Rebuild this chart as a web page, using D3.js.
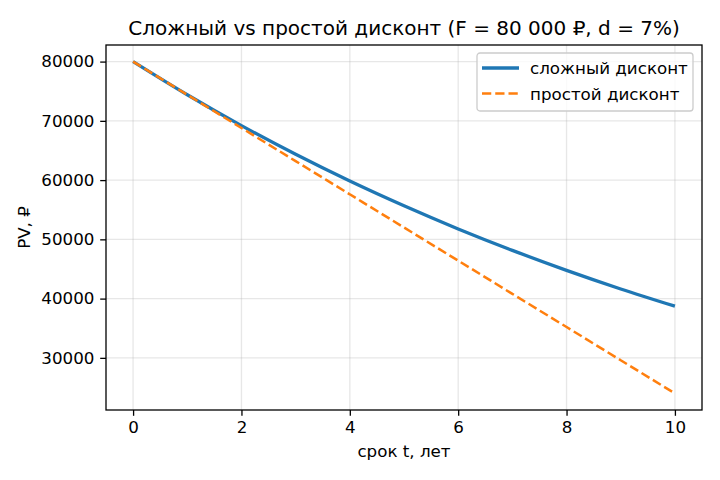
<!DOCTYPE html>
<html lang="ru">
<head>
  <meta charset="utf-8">
  <title>Сложный vs простой дисконт</title>
  <script src="https://d3js.org/d3.v7.min.js"></script>
  <style>
    body { margin: 0; background: #fff; }
    svg { font-family: "DejaVu Sans", sans-serif; }
  </style>
</head>
<body>
<script>
// years
var years = [0, 1, 2, 3, 4, 5, 6, 7, 8, 9, 10];
// PV, rubles
var compoundPV = [80000, 74400, 69190, 64350, 59840, 55660, 51760, 48140, 44770, 41630, 38720];
var simplePV = [80000, 74400, 68800, 63200, 57600, 52000, 46400, 40800, 35200, 29600, 24000];
var xTicks = [0, 2, 4, 6, 8, 10];
var yTicks = [30000, 40000, 50000, 60000, 70000, 80000];

var w = 720, h = 480;
var margin = {left: 106, top: 45, right: 18, bottom: 70};
var fs = "16.7px"; // 10pt at 120 dpi

var svg = d3.select("body").append("svg")
  .attr("width", w)
  .attr("height", h);

var x = d3.scaleLinear().domain([-0.5, 10.5]).range([margin.left, w - margin.right]);
var y = d3.scaleLinear().domain([21200, 82800]).range([h - margin.bottom, margin.top]);

// grid
svg.append("g").selectAll("line").data(xTicks).enter().append("line")
  .attr("x1", function(d) { return x(d); }).attr("x2", function(d) { return x(d); })
  .attr("y1", margin.top).attr("y2", h - margin.bottom)
  .attr("stroke", "#b0b0b0").attr("stroke-opacity", 0.3).attr("stroke-width", 1.3);
svg.append("g").selectAll("line").data(yTicks).enter().append("line")
  .attr("y1", function(d) { return y(d); }).attr("y2", function(d) { return y(d); })
  .attr("x1", margin.left).attr("x2", w - margin.right)
  .attr("stroke", "#b0b0b0").attr("stroke-opacity", 0.3).attr("stroke-width", 1.3);

// axes
var xAxis = svg.append("g")
  .attr("transform", "translate(0," + (h - margin.bottom) + ")")
  .call(d3.axisBottom(x).tickValues(xTicks).tickSize(5.8).tickPadding(5.8).tickFormat(d3.format("d")));
var yAxis = svg.append("g")
  .attr("transform", "translate(" + margin.left + ",0)")
  .call(d3.axisLeft(y).tickValues(yTicks).tickSize(5.8).tickPadding(5.8).tickFormat(d3.format("d")));
[xAxis, yAxis].forEach(function(a) {
  a.selectAll("text").attr("font-size", fs).attr("fill", "#000").attr("font-family", "DejaVu Sans");
  a.selectAll(".tick line").attr("stroke", "#000").attr("stroke-width", 1.3);
  a.select(".domain").remove();
});

// frame
svg.append("rect")
  .attr("x", margin.left).attr("y", margin.top)
  .attr("width", w - margin.left - margin.right)
  .attr("height", h - margin.top - margin.bottom)
  .attr("fill", "none").attr("stroke", "#000").attr("stroke-width", 1.3);

var line = d3.line().curve(d3.curveMonotoneX)
  .x(function(d) { return x(d[0]); })
  .y(function(d) { return y(d[1]); });

svg.append("path")
  .datum(d3.zip(years, compoundPV))
  .attr("d", line)
  .attr("fill", "none").attr("stroke", "#1f77b4").attr("stroke-width", 3.3);

svg.append("path")
  .datum(d3.zip(years, simplePV))
  .attr("d", line)
  .attr("fill", "none").attr("stroke", "#ff7f0e").attr("stroke-width", 2.5)
  .attr("stroke-dasharray", "9.25,4");

// title + labels
svg.append("text")
  .attr("x", (margin.left + w - margin.right) / 2).attr("y", 35)
  .attr("text-anchor", "middle").attr("font-size", "20px")
  .text("Сложный vs простой дисконт (F = 80 000 ₽, d = 7%)");
svg.append("text")
  .attr("x", (margin.left + w - margin.right) / 2).attr("y", 457)
  .attr("text-anchor", "middle").attr("font-size", fs)
  .text("срок t, лет");
svg.append("text")
  .attr("transform", "translate(30," + ((margin.top + h - margin.bottom) / 2) + ") rotate(-90)")
  .attr("text-anchor", "middle").attr("font-size", fs)
  .text("PV, ₽");

// legend
var lg = svg.append("g").attr("transform", "translate(477,53)");
lg.append("rect")
  .attr("width", 216).attr("height", 58).attr("rx", 3)
  .attr("fill", "#fff").attr("fill-opacity", 0.8)
  .attr("stroke", "#ccc").attr("stroke-width", 1.3);
var items = [
  {name: "сложный дисконт", color: "#1f77b4", width: 3.3, dash: null},
  {name: "простой дисконт", color: "#ff7f0e", width: 2.5, dash: "9.25,4"}
];
items.forEach(function(it, i) {
  var yy = 15 + i * 25.5;
  lg.append("line")
    .attr("x1", 5).attr("x2", 42).attr("y1", yy).attr("y2", yy)
    .attr("stroke", it.color).attr("stroke-width", it.width)
    .attr("stroke-dasharray", it.dash);
  lg.append("text")
    .attr("x", 53).attr("y", yy + 6).attr("font-size", fs)
    .text(it.name);
});
</script>
</body>
</html>
